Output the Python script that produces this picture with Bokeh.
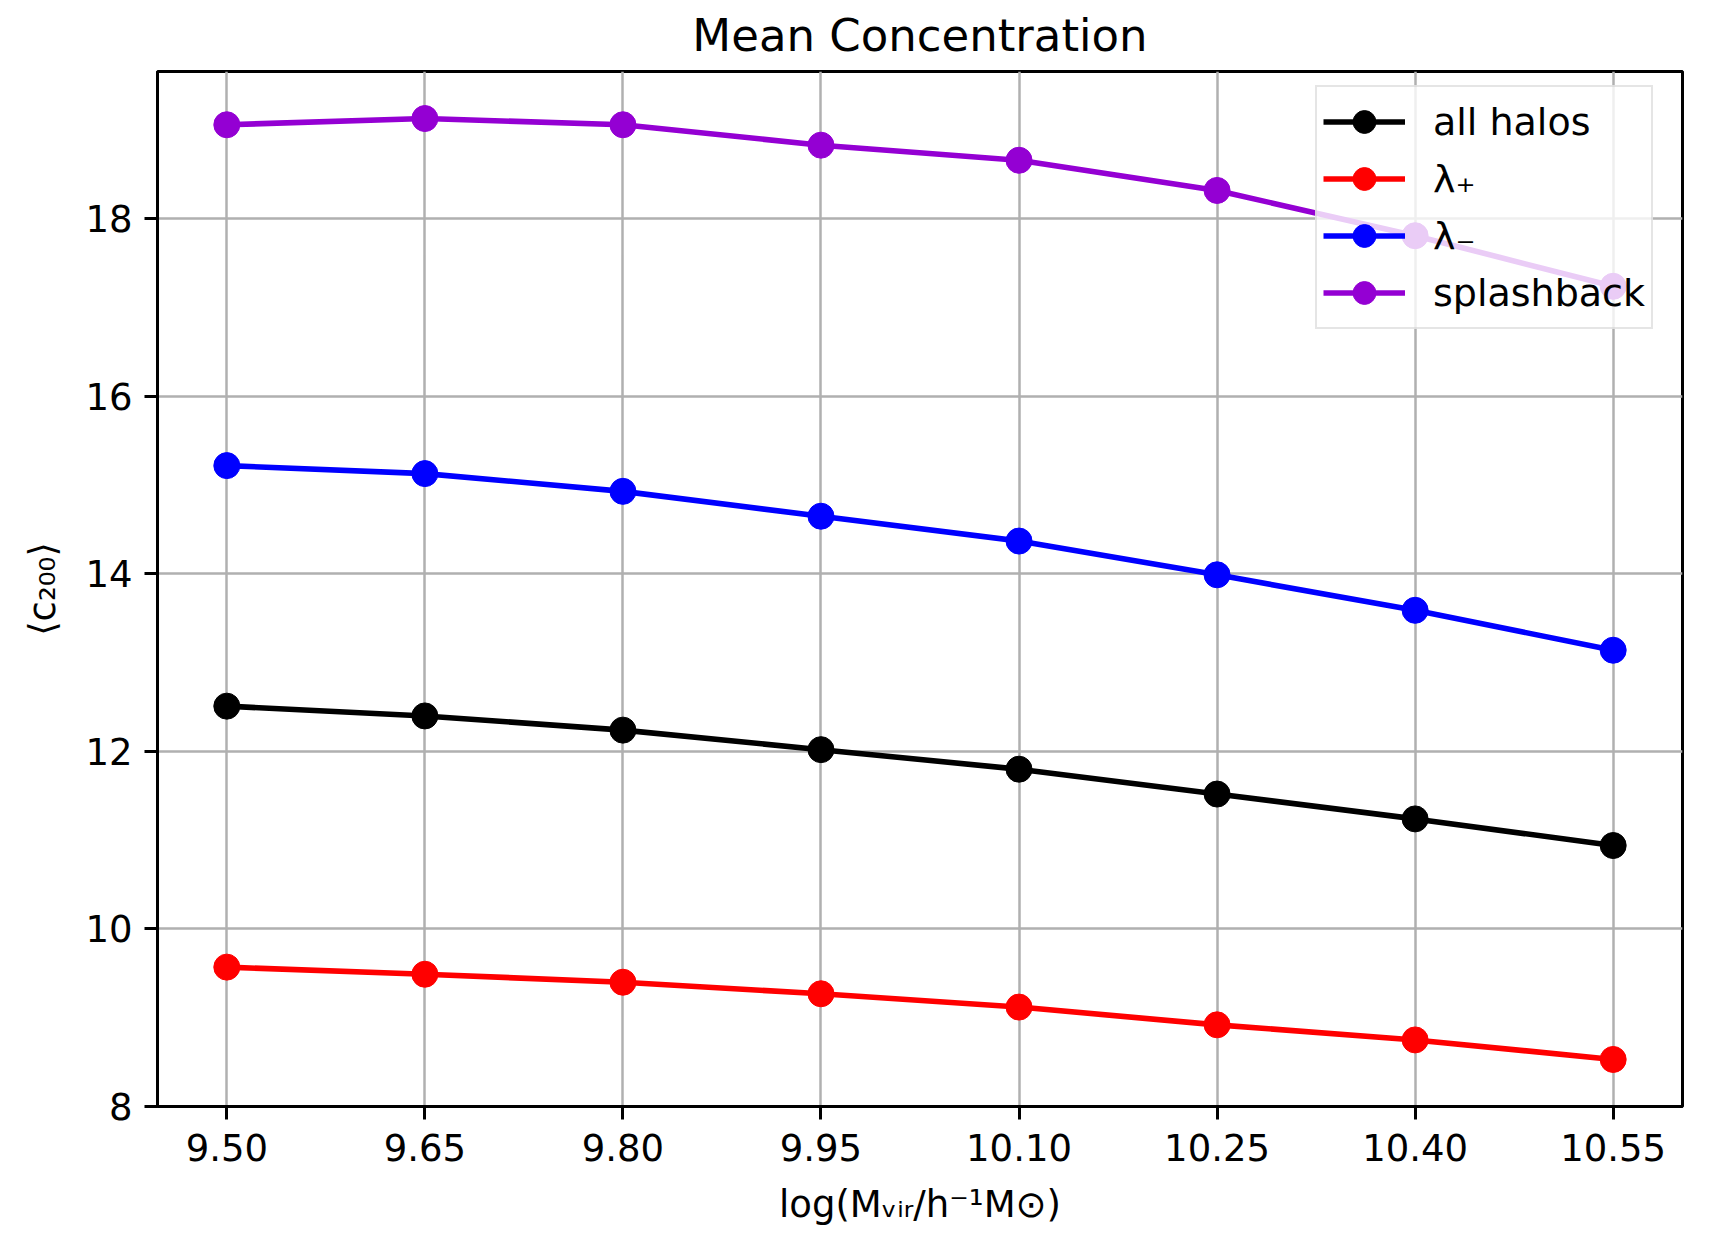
from bokeh.plotting import figure
from bokeh.models import FixedTicker, Range1d
from bokeh.embed import file_html
from bokeh.resources import INLINE

# Halo mass bins (log10 M_vir) and mean concentrations per population
log_mass = [9.50, 9.65, 9.80, 9.95, 10.10, 10.25, 10.40, 10.55]
mass_tick_labels = ["9.50", "9.65", "9.80", "9.95", "10.10", "10.25", "10.40", "10.55"]
conc_ticks = [8, 10, 12, 14, 16, 18]

c200_all = [12.51, 12.40, 12.24, 12.02, 11.80, 11.52, 11.24, 10.94]
c200_plus = [9.57, 9.49, 9.40, 9.27, 9.12, 8.92, 8.75, 8.53]
c200_minus = [15.22, 15.13, 14.93, 14.65, 14.37, 13.99, 13.59, 13.14]
c200_splash = [19.06, 19.13, 19.06, 18.83, 18.66, 18.32, 17.81, 17.24]

series = [
    ("all halos", c200_all, "black"),
    ("λ₊", c200_plus, "#ff0000"),
    ("λ₋", c200_minus, "#0000ff"),
    ("splashback", c200_splash, "#9400d3"),
]

FONT = "DejaVu Sans"

p = figure(
    width=1730, height=1233,
    output_backend="svg", toolbar_location=None,
    x_range=Range1d(9.4475, 10.6025), y_range=Range1d(8.0, 19.66),
    min_border_left=157, min_border_right=48,
    min_border_top=71, min_border_bottom=127,
    title="Mean Concentration",
)
p.background_fill_color = "white"
p.border_fill_color = "white"
p.outline_line_color = "black"
p.outline_line_width = 3

p.title.text_font = FONT
p.title.text_font_size = "45px"
p.title.text_font_style = "normal"
p.title.align = "center"
p.title.vertical_align = "top"
p.title.text_color = "black"
p.title.standoff = 16

for ax in (p.xaxis[0], p.yaxis[0]):
    ax.axis_line_color = "black"
    ax.axis_line_width = 3
    ax.major_tick_line_color = "black"
    ax.major_tick_line_width = 3
    ax.major_tick_out = 13
    ax.major_tick_in = 0
    ax.minor_tick_line_color = None
    ax.major_label_text_font = FONT
    ax.major_label_text_font_size = "37px"
    ax.major_label_text_color = "black"
    ax.axis_label_text_font = FONT
    ax.axis_label_text_font_size = "37px"
    ax.axis_label_text_font_style = "normal"
    ax.axis_label_text_color = "black"

p.xaxis.ticker = FixedTicker(ticks=log_mass)
p.xaxis.major_label_overrides = {m: s for m, s in zip(log_mass, mass_tick_labels)}
p.xaxis.major_label_standoff = 14
p.xaxis.axis_label = "log(Mᵥᵢᵣ/h⁻¹M⊙)"
p.xaxis.axis_label_standoff = 19

p.yaxis.ticker = FixedTicker(ticks=conc_ticks)
p.yaxis.major_label_standoff = 12
p.yaxis.axis_label = "⟨c₂₀₀⟩"
p.yaxis.axis_label_standoff = 18

for g in (p.xgrid[0], p.ygrid[0]):
    g.grid_line_color = "#b0b0b0"
    g.grid_line_width = 2.5
p.xgrid.ticker = FixedTicker(ticks=log_mass)
p.ygrid.ticker = FixedTicker(ticks=conc_ticks)

for label, vals, color in series:
    p.line(log_mass, vals, line_color=color, line_width=5.6, legend_label=label)
    p.scatter(log_mass, vals, size=26, fill_color=color, line_color=color,
              legend_label=label)

# Legend anchored by its bottom-left corner (screen px from the frame's
# bottom-left); rows are 57 px apart
lg = p.legend[0]
lg.location = (1158, 777)
lg.padding = 6
lg.spacing = 0
lg.glyph_width = 82
lg.glyph_height = 57
lg.label_height = 42
lg.label_standoff = 28
lg.label_text_font = FONT
lg.label_text_font_size = "38px"
lg.label_text_color = "black"
lg.background_fill_color = "white"
lg.background_fill_alpha = 0.8
lg.border_line_color = "#cccccc"
lg.border_line_width = 2.5

open("out.html", "w").write(file_html(p, INLINE))
